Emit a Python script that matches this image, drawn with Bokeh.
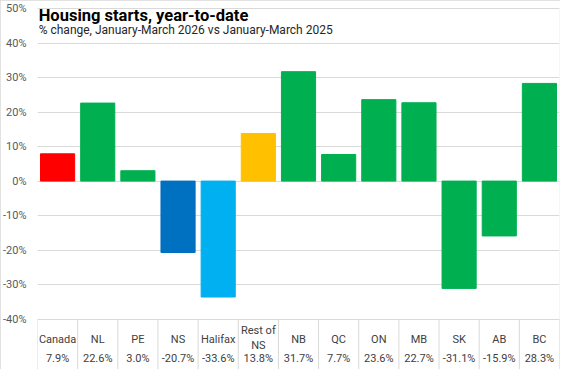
from bokeh.plotting import figure
from bokeh.models import Range1d, FixedTicker, PrintfTickFormatter, ColumnDataSource
from bokeh.core.properties import value
from bokeh.embed import file_html
from bokeh.resources import INLINE
import numpy as np

categories = ["Canada", "NL", "PE", "NS", "Halifax", "Rest of\nNS", "NB", "QC", "ON", "MB", "SK", "AB", "BC"]
changes = [7.9, 22.6, 3.0, -20.7, -33.6, 13.8, 31.7, 7.7, 23.6, 22.7, -31.1, -15.9, 28.3]
bar_colors = ["#FF0000", "#00B050", "#00B050", "#0070C0", "#00B0F0", "#FFC000",
              "#00B050", "#00B050", "#00B050", "#00B050", "#00B050", "#00B050", "#00B050"]
y_ticks = [-40, -30, -20, -10, 0, 10, 20, 30, 40, 50]
title_text = "Housing starts, year-to-date"
subtitle_text = "% change, January-March  2026 vs January-March  2025"

FONT = "Roboto"
n = len(categories)
xs = np.arange(n) + 0.5
y_min, y_max = -54.6, 50.3

p = figure(width=560, height=369, output_backend="svg", toolbar_location=None,
           x_range=Range1d(0, n), y_range=Range1d(y_min, y_max),
           x_axis_location=None, min_border_left=36, min_border_right=1,
           min_border_top=7, min_border_bottom=0, outline_line_color=None,
           background_fill_color="white", border_fill_color="white")
p.styles = {"outline": "1px solid #D9D9D9", "outline-offset": "-1px"}

p.xgrid.visible = False
p.ygrid.ticker = FixedTicker(ticks=y_ticks)
p.ygrid.grid_line_color = "#D9D9D9"
p.yaxis.ticker = FixedTicker(ticks=y_ticks)
p.yaxis.formatter = PrintfTickFormatter(format="%d%%")
p.yaxis.axis_line_color = None
p.yaxis.major_tick_line_color = None
p.yaxis.minor_tick_line_color = None
p.yaxis.major_label_text_font = FONT
p.yaxis.major_label_text_font_size = "11px"
p.yaxis.major_label_text_color = "#595959"
p.yaxis.major_label_standoff = 5

src = ColumnDataSource(dict(x=xs, top=changes, color=bar_colors))
p.vbar(x="x", top="top", bottom=0, width=0.85, color="color", source=src)

# data table below the chart
bounds = np.arange(n + 1)
p.segment(x0=bounds, y0=[-40] * (n + 1), x1=bounds, y1=[y_min] * (n + 1),
          line_color="#D9D9D9", line_width=1)

lab_x, lab_y, lab_t = [], [], []
for xi, cat in zip(xs, categories):
    parts = cat.split("\n")
    if len(parts) == 1:
        lab_x.append(xi); lab_y.append(-45.8); lab_t.append(parts[0])
    else:
        for k, part in enumerate(parts):
            lab_x.append(xi); lab_y.append(-43.4 - 4.2 * k); lab_t.append(part)
p.text(x=lab_x, y=lab_y, text=lab_t, text_align="center", text_baseline="middle",
       text_font=value(FONT), text_font_size="11px", text_color="#404040")
p.text(x=xs, y=[-51.4] * n, text=[f"{v:.1f}%" for v in changes], text_align="center",
       text_baseline="middle", text_font=value(FONT), text_font_size="11px", text_color="#404040")

# title
p.text(x=[0.03], y=[48.0], text=[title_text], text_align="left", text_baseline="middle",
       text_font=value(FONT), text_font_size="16.5px", text_font_style="bold", text_color="#000000")
p.text(x=[0.03], y=[43.9], text=[subtitle_text], text_align="left", text_baseline="middle",
       text_font=value(FONT), text_font_size="12px", text_color="#262626")

open("out.html", "w").write(file_html(p, INLINE))
